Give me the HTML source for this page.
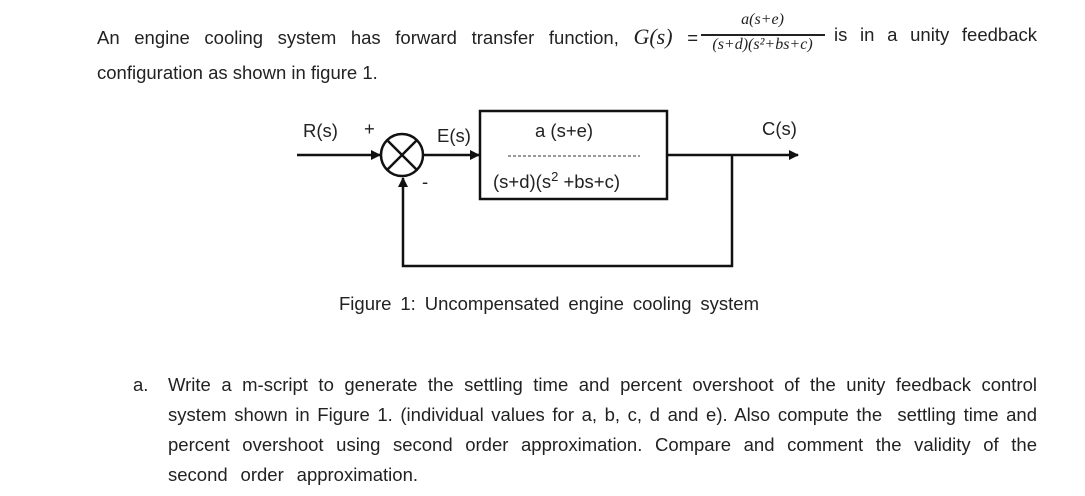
<!DOCTYPE html>
<html><head><style>
body{margin:0;width:1085px;height:496px;background:#fff;font-family:"Liberation Sans",sans-serif;color:#222;position:relative;overflow:hidden}
.t{position:absolute;font-size:18.5px;white-space:nowrap}
.j{position:absolute;left:168px;width:869px;font-size:18.5px;text-align:justify;text-align-last:justify;white-space:nowrap}
.m{font-family:"Liberation Serif",serif;font-style:italic}
</style></head><body>
<div class="t" style="left:97px;top:24px;width:601px;text-align:justify;text-align-last:justify">An engine cooling system has forward transfer function, <span class="m" style="font-size:22px">G(s)</span> =</div>
<div class="t m" style="left:700px;top:11px;width:125px;text-align:center;font-size:16px">a(s+e)</div>
<div style="position:absolute;left:701px;top:34px;width:124px;height:1.5px;background:#222"></div>
<div class="t m" style="left:697px;top:36px;width:131px;text-align:center;font-size:16px">(s+d)(s²+bs+c)</div>
<div class="t" style="left:834px;top:24px;width:203px;text-align:justify;text-align-last:justify">is in a unity feedback</div>
<div class="t" style="left:97px;top:62px">configuration as shown in figure 1.</div>

<svg style="position:absolute;left:0;top:0" width="1085" height="496">
<defs><marker id="a" markerWidth="10" markerHeight="10" refX="9" refY="5" orient="auto" markerUnits="userSpaceOnUse"><path d="M0,0L10,5L0,10z" fill="#111"/></marker></defs>
<g stroke="#111" stroke-width="2.5" fill="none">
<line x1="297" y1="155" x2="380" y2="155" marker-end="url(#a)"/>
<circle cx="402" cy="155" r="21"/>
<line x1="387" y1="140" x2="417" y2="170"/><line x1="417" y1="140" x2="387" y2="170"/>
<line x1="423" y1="155" x2="479" y2="155" marker-end="url(#a)"/>
<rect x="480" y="111" width="187" height="88"/>
<line x1="667" y1="155" x2="798" y2="155" marker-end="url(#a)"/>
<polyline points="732,155 732,266 403,266 403,178" marker-end="url(#a)"/>
</g>
<line x1="508" y1="156" x2="640" y2="156" stroke="#333" stroke-width="1" stroke-dasharray="3,2"/>
</svg>
<div class="t" style="left:303px;top:120px">R(s)</div>
<div class="t" style="left:364px;top:118px">+</div>
<div class="t" style="left:437px;top:125px">E(s)</div>
<div class="t" style="left:422px;top:171px">-</div>
<div class="t" style="left:535px;top:120px">a (s+e)</div>
<div class="t" style="left:493px;top:169px">(s+d)(s<sup style="font-size:13px">2</sup> +bs+c)</div>
<div class="t" style="left:762px;top:118px">C(s)</div>
<div class="t" style="left:339px;top:293px;width:420px;text-align:justify;text-align-last:justify">Figure 1: Uncompensated engine cooling system</div>

<div class="t" style="left:133px;top:374px">a.</div>
<div class="j" style="top:374px">Write a m-script to generate the settling time and percent overshoot of the unity feedback control</div>
<div class="j" style="top:404px">system shown in Figure 1. (individual values for a, b, c, d and e). Also compute the&nbsp; settling time and</div>
<div class="j" style="top:434px">percent overshoot using second order approximation. Compare and comment the validity of the</div>
<div class="t" style="left:168px;top:464px;width:250px;text-align:justify;text-align-last:justify">second order approximation.</div>
</body></html>
